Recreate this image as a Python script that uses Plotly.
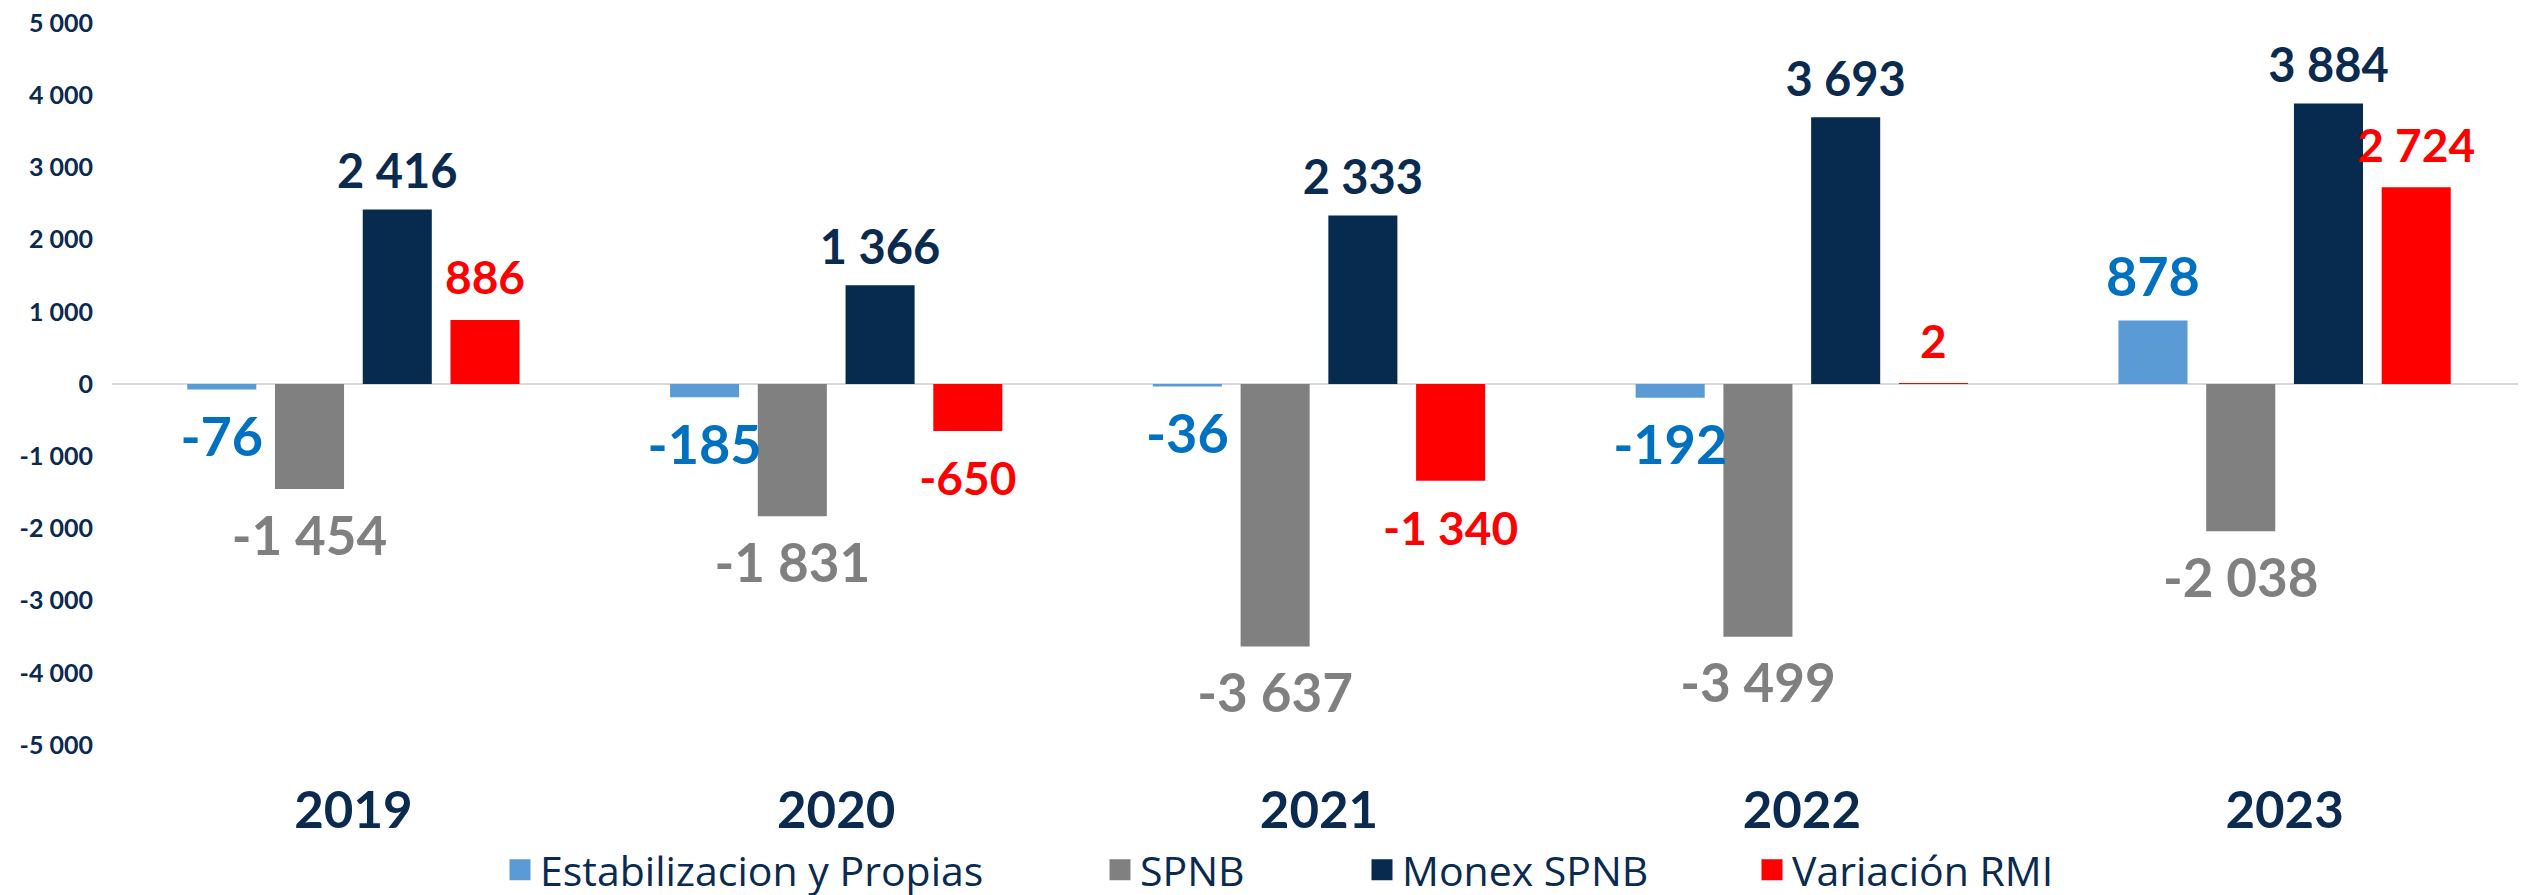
import plotly.graph_objects as go

years = ["2019", "2020", "2021", "2022", "2023"]
series_names = ["Estabilizacion y Propias", "SPNB", "Monex SPNB", "Variación RMI"]
estabilizacion = [-76, -185, -36, -192, 878]
spnb = [-1454, -1831, -3637, -3499, -2038]
monex_spnb = [2416, 1366, 2333, 3693, 3884]
variacion_rmi = [886, -650, -1340, 2, 2724]
ytick_vals = [5000, 4000, 3000, 2000, 1000, 0, -1000, -2000, -3000, -4000, -5000]
ytick_text = ["5 000", "4 000", "3 000", "2 000", "1 000", "0", "-1 000", "-2 000",
              "-3 000", "-4 000", "-5 000"]

bar_colors = ["#5B9BD5", "#808080", "#072B4F", "#FF0000"]
label_colors = ["#0070C0", "#808080", "#0A2A4F", "#FF0000"]
label_sizes = [54, 53, 47, 46]
# invisible marker sizes used as label padding (positive / negative bars)
pad_pos = [16, 10, 14, 21]
pad_neg = [40, 40, 38, 46]
navy = "#0A2A4F"

# the page body adds an 8px offset, so the figure is 8px smaller than the window
W, H = 2518, 887
ml, mr, mt, mb = 104, 0, 15, 150
plot_w = W - ml - mr
plot_h = H - mt - mb

BARGAP = 0.273


def fmt(v):
    return f"{v:,}".replace(",", " ")


legend_px = [508, 1108, 1370, 1760]
legend_y = (H - mb - 862) / plot_h

fig = go.Figure()
all_series = [estabilizacion, spnb, monex_spnb, variacion_rmi]

# bars
for i, (name, vals) in enumerate(zip(series_names, all_series)):
    fig.add_trace(go.Bar(
        x=years, y=vals, name=name,
        marker=dict(color=bar_colors[i], line=dict(width=0)),
        showlegend=False,
    ))

# value labels (grouped like the bars)
for i, (name, vals) in enumerate(zip(series_names, all_series)):
    fig.add_trace(go.Scatter(
        x=years, y=vals, mode="markers+text",
        text=[fmt(v) for v in vals],
        textposition=["top center" if v >= 0 else "bottom center" for v in vals],
        textfont=dict(family="Lato", size=label_sizes[i], color=label_colors[i],
                      weight="bold"),
        marker=dict(size=[pad_pos[i] if v >= 0 else pad_neg[i] for v in vals],
                    color="rgba(0,0,0,0)", line=dict(width=0)),
        cliponaxis=False,
        hoverinfo="skip",
        showlegend=False,
    ))

# legend entries (on a hidden overlay axis so they don't affect grouping)
for i, name in enumerate(series_names):
    lg = "legend" if i == 0 else f"legend{i+1}"
    fig.add_trace(go.Scatter(
        x=[None], y=[None], mode="markers", name=name,
        marker=dict(symbol="square", size=16, color=bar_colors[i],
                    line=dict(width=5, color=bar_colors[i])),
        xaxis="x2", yaxis="y2",
        legend=lg, showlegend=True,
    ))

legend_common = dict(
    orientation="h",
    yanchor="middle",
    xanchor="left",
    y=legend_y,
    bgcolor="rgba(0,0,0,0)",
    font=dict(family="Open Sans", size=41, color=navy),
    borderwidth=0,
)
layout_legends = {}
for i, px in enumerate(legend_px):
    key = "legend" if i == 0 else f"legend{i+1}"
    layout_legends[key] = dict(legend_common, x=(px - 16 - ml) / plot_w)

fig.update_layout(
    width=W, height=H,
    margin=dict(l=ml, r=mr, t=mt, b=mb, autoexpand=False),
    paper_bgcolor="white",
    plot_bgcolor="white",
    barmode="group",
    bargap=BARGAP,
    bargroupgap=0.213,
    scattermode="group",
    scattergap=BARGAP,
    showlegend=True,
    xaxis2=dict(overlaying="x", visible=False),
    yaxis2=dict(overlaying="y", visible=False),
    **layout_legends,
)
fig.layout.xaxis.update(
    showgrid=False, showline=False, ticks="", automargin=False,
    tickfont=dict(family="Lato", size=51, color=navy, weight="bold"),
    ticklabelstandoff=31,
    ticklabeloverflow="allow",
)
fig.layout.yaxis.update(
    range=[-5000, 5000], automargin=False,
    tickvals=ytick_vals, ticktext=ytick_text,
    showgrid=False, showline=False, ticks="",
    zeroline=True, zerolinecolor="#D9D9D9", zerolinewidth=2,
    layer="above traces",
    tickfont=dict(family="Lato", size=25, color=navy, weight="bold"),
    ticklabelstandoff=18,
    ticklabeloverflow="allow",
)

fig.write_html("out.html")
